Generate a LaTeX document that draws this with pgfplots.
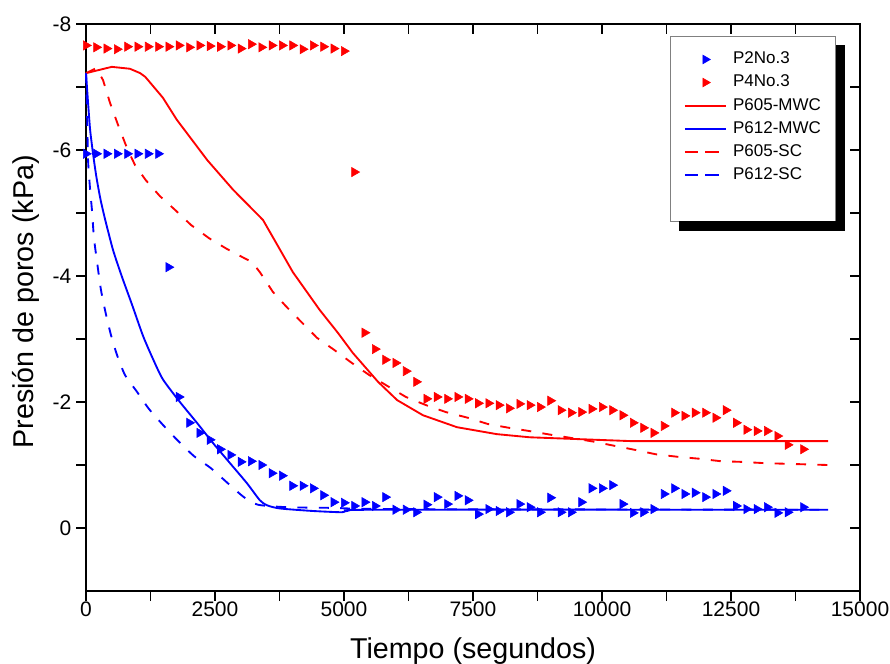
\documentclass[border=0pt]{standalone}
\usepackage{pgfplots}
\pgfplotsset{compat=1.18}
\usepackage{fontspec}
\setmainfont{Liberation Sans}

\pgfplotsset{
  commonaxis/.style={
    at={(64.5pt,54.75pt)}, anchor=south west,
    scale only axis, width=580.5pt, height=425.25pt,
    xmin=0, xmax=15000, ymin=-8, ymax=1, y dir=reverse,
    xtick={0,2500,...,15000}, minor x tick num=1,
    ytick={-8,-6,-4,-2,0}, minor y tick num=1,
    axis line style={line width=1.2pt},
    tick style={black, line width=1.2pt},
    major tick length=7.5pt, minor tick length=7.5pt,
    scaled x ticks=false,
    /pgf/number format/1000 sep={},
    /pgf/number format/assume math mode=true,
    tick label style={font=\fontsize{15.75}{18}\selectfont},
    clip=false,
  }
}

\begin{document}
\begin{tikzpicture}
\useasboundingbox (0,0) rectangle (667.5pt,498pt);

\begin{axis}[commonaxis, xtick pos=right, ytick pos=right, tick align=inside,
  xticklabels={}, yticklabels={}]
\end{axis}

\begin{axis}[commonaxis, xtick pos=left, ytick pos=left, tick align=outside,
  xlabel={Tiempo (segundos)}, ylabel={Presión de poros (kPa)},
  label style={font=\fontsize{21.5}{25}\selectfont},
  xticklabel style={yshift=3pt},
  xlabel style={at={(axis description cs:0.5,-0.106)}, anchor=center},
  ylabel style={at={(axis description cs:-0.0775,0.51)}, anchor=center, rotate=0},
  legend image code/.code={\draw[mark repeat=2,mark phase=2,#1] plot coordinates {(0pt,0pt) (15.4pt,0pt) (30.75pt,0pt)};},
  legend cell align=left,
  legend style={name=leg, at={(0.969,0.979)}, anchor=north east, draw=gray, line width=0.6pt, fill=white,
    font=\fontsize{12.75}{15}\selectfont, inner xsep=10pt, inner ysep=10.5pt,
    row sep=3.6pt, column sep=3.75pt,
    nodes={inner sep=1pt, text height=9.2pt, text depth=2.5pt}},
]
\addlegendimage{only marks, mark=triangle*, mark size=3.6pt, blue, mark options={rotate=-90, solid, fill=blue, draw=blue}}
\addlegendentry{P2No.3}
\addlegendimage{only marks, mark=triangle*, mark size=3.6pt, red, mark options={rotate=-90, solid, fill=red, draw=red}}
\addlegendentry{P4No.3}
\addlegendimage{red, line width=1.4pt, no marks}
\addlegendentry{P605-MWC}
\addlegendimage{blue, line width=1.4pt, no marks}
\addlegendentry{P612-MWC}
\addlegendimage{red, line width=1.4pt, no marks, dash pattern=on 10pt off 5.5pt}
\addlegendentry{P605-SC}
\addlegendimage{blue, line width=1.4pt, no marks, dash pattern=on 10pt off 5.5pt}
\addlegendentry{P612-SC}
\addlegendimage{empty legend}
\addlegendentry{}

% P605-MWC
\addplot[red, line width=1.4pt, no marks, forget plot] table {
x y
0 -7.22
500 -7.32
850 -7.29
1050 -7.22
1150 -7.16
1490 -6.83
1760 -6.48
2350 -5.84
2850 -5.37
3430 -4.89
4010 -4.06
4530 -3.46
4880 -3.10
5170 -2.78
5660 -2.32
6030 -2.03
6530 -1.79
7190 -1.60
7960 -1.49
8600 -1.44
9570 -1.41
10540 -1.38
14380 -1.38
};
% P612-MWC
\addplot[blue, line width=1.4pt, no marks, smooth, tension=0.4, forget plot] table {
x y
0 -7.22
40 -6.75
80 -6.32
135 -5.95
200 -5.58
280 -5.22
370 -4.90
525 -4.41
700 -3.98
890 -3.55
1105 -3.05
1300 -2.68
1490 -2.36
1820 -2.00
2150 -1.67
2460 -1.35
2790 -1.03
3120 -0.71
3370 -0.44
3510 -0.36
3760 -0.31
4400 -0.27
4960 -0.25
5060 -0.27
5700 -0.29
14380 -0.29
};
% P605-SC
\addplot[red, line width=1.4pt, no marks, dash pattern=on 7.5pt off 8.5pt, forget plot] table {
x y
0 -7.22
200 -7.30
330 -7.11
465 -6.75
620 -6.40
795 -6.03
950 -5.76
1160 -5.52
1430 -5.27
1725 -5.05
2035 -4.81
2385 -4.60
2730 -4.43
3100 -4.27
3220 -4.22
3370 -4.06
3620 -3.75
3875 -3.52
4150 -3.29
4475 -3.02
4805 -2.83
5135 -2.63
5485 -2.43
5850 -2.25
6200 -2.08
6590 -1.95
6975 -1.84
7400 -1.75
7790 -1.65
8200 -1.59
8585 -1.54
9010 -1.48
9400 -1.43
9845 -1.37
10270 -1.30
10640 -1.24
11045 -1.17
11470 -1.13
11880 -1.10
12305 -1.06
12695 -1.05
13140 -1.03
13545 -1.02
14380 -1.00
};
% P612-SC
\addplot[blue, line width=1.4pt, no marks, dash pattern=on 7.5pt off 8.5pt, smooth, tension=0.4, forget plot] table {
x y
0 -7.22
20 -6.63
40 -5.84
80 -5.37
115 -5.05
155 -4.60
215 -4.22
290 -3.78
390 -3.38
485 -3.06
600 -2.75
755 -2.43
990 -2.16
1220 -1.89
1510 -1.62
1800 -1.37
2095 -1.14
2420 -0.95
2750 -0.71
3060 -0.49
3330 -0.37
3895 -0.33
4730 -0.32
6085 -0.30
14380 -0.29
};
% P2No.3
\addplot[only marks, mark=triangle*, mark size=4pt, blue, mark options={rotate=-90, solid, fill=blue, draw=blue}, forget plot] table {
x y
0 -5.94
200 -5.94
400 -5.94
600 -5.94
800 -5.94
1000 -5.94
1200 -5.94
1400 -5.94
1600 -4.14
1800 -2.08
2000 -1.67
2200 -1.51
2400 -1.40
2600 -1.25
2800 -1.16
3000 -1.05
3200 -1.06
3400 -1.00
3600 -0.87
3800 -0.83
4000 -0.67
4200 -0.67
4400 -0.63
4600 -0.52
4800 -0.41
5000 -0.40
5200 -0.35
5400 -0.41
5600 -0.35
5800 -0.49
6000 -0.29
6200 -0.29
6400 -0.25
6600 -0.37
6800 -0.49
7000 -0.38
7200 -0.51
7400 -0.44
7600 -0.22
7800 -0.30
8000 -0.27
8200 -0.25
8400 -0.38
8600 -0.33
8800 -0.25
9000 -0.48
9200 -0.25
9400 -0.25
9600 -0.41
9800 -0.63
10000 -0.63
10200 -0.68
10400 -0.38
10600 -0.24
10800 -0.25
11000 -0.30
11200 -0.54
11400 -0.63
11600 -0.54
11800 -0.56
12000 -0.49
12200 -0.54
12400 -0.59
12600 -0.35
12800 -0.30
13000 -0.30
13200 -0.33
13400 -0.24
13600 -0.25
13900 -0.33
};
% P4No.3
\addplot[only marks, mark=triangle*, mark size=4pt, red, mark options={rotate=-90, solid, fill=red, draw=red}, forget plot] table {
x y
0 -7.66
200 -7.63
400 -7.61
600 -7.60
800 -7.64
1000 -7.64
1200 -7.64
1400 -7.64
1600 -7.64
1800 -7.66
2000 -7.63
2200 -7.66
2400 -7.65
2600 -7.64
2800 -7.66
3000 -7.61
3200 -7.68
3400 -7.63
3600 -7.66
3800 -7.66
4000 -7.66
4200 -7.60
4400 -7.66
4600 -7.64
4800 -7.61
5000 -7.57
5200 -5.65
5400 -3.10
5600 -2.84
5800 -2.67
6000 -2.62
6200 -2.49
6400 -2.32
6600 -2.05
6800 -2.08
7000 -2.05
7200 -2.08
7400 -2.05
7600 -1.98
7800 -1.98
8000 -1.95
8200 -1.90
8400 -1.97
8600 -1.95
8800 -1.92
9000 -2.02
9200 -1.87
9400 -1.83
9600 -1.84
9800 -1.89
10000 -1.92
10200 -1.87
10400 -1.79
10600 -1.67
10800 -1.59
11000 -1.51
11200 -1.62
11400 -1.83
11600 -1.78
11800 -1.83
12000 -1.83
12200 -1.75
12400 -1.87
12600 -1.67
12800 -1.56
13000 -1.54
13200 -1.54
13400 -1.46
13600 -1.32
13900 -1.25
};
\end{axis}
% legend shadow (right and bottom strips)
\fill[black] ([yshift=-7pt]leg.north east) rectangle ([xshift=7pt,yshift=-7pt]leg.south east);
\fill[black] ([xshift=7pt]leg.south west) rectangle ([xshift=7pt,yshift=-7pt]leg.south east);
\end{tikzpicture}
\end{document}
